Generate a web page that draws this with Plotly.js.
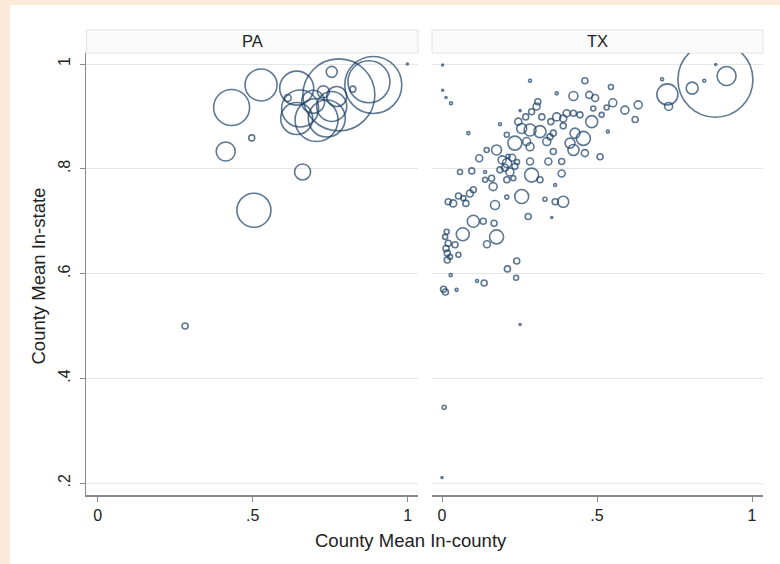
<!DOCTYPE html>
<html>
<head>
<meta charset="utf-8">
<script src="https://cdn.plot.ly/plotly-3.0.1.min.js"></script>
<style>html,body{margin:0;padding:0;background:#fde9da;}#chart{width:780px;height:564px;}</style>
</head>
<body>
<div id="chart"></div>
<script>
// Panel labels
const panels = ['PA', 'TX'];
// Tick labels
const xTickVals = [0, 0.5, 1];
const xTickText = ['0', '.5', '1'];
const yTickVals = [0.2, 0.4, 0.6, 0.8, 1];
const yTickText = ['.2', '.4', '.6', '.8', '1'];

// PA: county mean in-county (x), in-state (y), weight (bubble area)
const paX = [0.432,0.527,0.642,0.755,0.778,0.889,0.875,0.823,0.613,0.642,0.706,0.739,0.755,0.695,0.728,0.771,0.653,0.497,0.413,0.661,0.504,0.282,0.999];
const paY = [0.917,0.960,0.954,0.985,0.941,0.960,0.966,0.952,0.935,0.896,0.893,0.896,0.919,0.928,0.947,0.938,0.915,0.859,0.833,0.794,0.721,0.500,1.000];
const paW = [1296,1024,1156,121,5184,3249,1764,36,49,1024,1849,1369,900,529,144,400,1369,36,361,256,1156,36,4];

// TX
const txX = [0.882,0.918,0.807,0.846,0.883,0.727,0.731,0.710,0.633,0.623,0.590,0.551,0.535,0.545,0.461,0.494,0.475,0.483,0.488,0.510,0.461,0.424,0.370,0.284,0.515,0.531,
0.002,0.013,0.029,0.002,0.309,0.305,0.252,0.289,0.270,0.322,0.370,0.391,0.402,0.424,0.445,0.351,0.246,0.187,0.284,0.316,0.257,0.085,0.359,0.391,0.429,0.456,0.235,0.273,0.209,0.284,0.338,0.348,0.413,0.424,0.359,0.176,0.144,0.120,
0.194,0.210,0.226,0.203,0.235,0.219,0.187,0.242,0.213,0.284,0.289,0.316,0.343,0.386,0.386,0.365,0.058,0.096,0.139,0.160,0.139,0.165,0.209,0.230,0.257,0.171,0.209,0.332,0.365,0.391,
0.020,0.036,0.069,0.090,0.101,0.077,0.278,0.354,0.101,0.133,0.168,0.067,0.176,0.145,0.015,0.010,0.020,0.013,0.017,0.026,0.042,0.053,0.017,0.241,0.211,0.239,0.028,0.113,0.136,0.005,0.011,0.047,0.252,0.007,0.000,0.053];
const txY = [0.970,0.977,0.954,0.968,0.999,0.942,0.919,0.971,0.922,0.894,0.912,0.926,0.871,0.956,0.968,0.935,0.941,0.890,0.915,0.823,0.830,0.939,0.944,0.968,0.903,0.917,
0.998,0.936,0.925,0.950,0.928,0.919,0.911,0.909,0.899,0.899,0.899,0.896,0.906,0.906,0.903,0.890,0.890,0.885,0.874,0.871,0.877,0.868,0.868,0.882,0.868,0.858,0.849,0.852,0.865,0.842,0.852,0.861,0.849,0.836,0.833,0.836,0.836,0.820,
0.817,0.811,0.821,0.802,0.805,0.794,0.798,0.813,0.824,0.814,0.788,0.779,0.814,0.814,0.791,0.769,0.794,0.796,0.794,0.782,0.779,0.766,0.779,0.782,0.747,0.731,0.746,0.742,0.737,0.737,
0.737,0.734,0.744,0.753,0.760,0.734,0.709,0.707,0.700,0.700,0.696,0.675,0.670,0.656,0.680,0.670,0.658,0.648,0.639,0.632,0.655,0.636,0.626,0.624,0.609,0.592,0.597,0.586,0.582,0.570,0.565,0.569,0.503,0.345,0.211,0.748];
const txW = [5625,361,144,9,4,441,64,9,64,36,64,64,9,25,36,49,49,144,25,36,49,81,9,9,25,25,
4,4,9,4,36,49,4,36,36,36,64,49,49,36,36,36,49,9,144,144,100,9,36,36,100,196,196,64,25,64,64,36,100,121,36,100,25,49,
64,81,49,49,36,64,36,25,16,49,196,36,49,36,49,9,25,36,9,36,25,64,36,25,196,81,16,16,36,121,
36,49,25,49,36,36,36,4,144,36,36,169,196,49,25,25,36,36,36,25,36,25,36,36,36,25,9,9,36,36,36,9,4,16,4,36];

const navy = '#1a3f66';
const fontFam = '"Liberation Sans", Arial, Helvetica, sans-serif';
const size = w => w.map(v => Math.sqrt(v));

function bubbles(x, y, w, xa, ya) {
  return {
    type: 'scatter', mode: 'markers', x: x, y: y, xaxis: xa, yaxis: ya,
    hoverinfo: 'skip',
    marker: {symbol: 'circle', size: size(w), sizemode: 'diameter',
             color: 'rgba(0,0,0,0)', line: {color: navy, width: 1.6}}
  };
}

const data = [
  bubbles(paX, paY, paW, 'x', 'y'),
  bubbles(txX, txY, txW, 'x2', 'y2')
];

const W = 780, H = 564;
const px = v => v / W, py = v => 1 - v / H;
const yRange = [1 - (495 - 64) / 524, 1 + (64 - 53) / 524];
const tickFont = {family: fontFam, size: 16, color: '#222'};

const xBase = {
  range: [-0.0377, 1.0333], tickvals: xTickVals, ticktext: xTickText,
  ticks: 'outside', ticklen: 5, tickcolor: '#8a8a8a', tickwidth: 1,
  showline: true, linecolor: '#8a8a8a', linewidth: 1.5,
  showgrid: false, zeroline: false, tickfont: tickFont, fixedrange: true
};
const yBase = {
  range: yRange, domain: [py(495), py(53)], tickvals: yTickVals, ticktext: yTickText,
  showgrid: true, gridcolor: '#e6e6e6', gridwidth: 1, zeroline: false, fixedrange: true
};

const layout = {
  width: W, height: H,
  margin: {l: 0, r: 0, t: 0, b: 0},
  paper_bgcolor: '#fde9da',
  plot_bgcolor: 'rgba(0,0,0,0)',
  showlegend: false,
  xaxis: Object.assign({}, xBase, {domain: [px(86), px(418)], anchor: 'y'}),
  xaxis2: Object.assign({}, xBase, {domain: [px(432), px(763)], anchor: 'y2', range: [-0.0323, 1.0355]}),
  yaxis: Object.assign({}, yBase, {anchor: 'x', ticks: 'outside', ticklen: 5, tickcolor: '#8a8a8a',
    showline: true, linecolor: '#8a8a8a', linewidth: 1.5, tickangle: -90, tickfont: tickFont,
    ticklabelstandoff: 3}),
  yaxis2: Object.assign({}, yBase, {anchor: 'x2', matches: 'y', showticklabels: false, ticks: '', showline: false}),
  shapes: [
    {type: 'rect', xref: 'paper', yref: 'paper', x0: px(10), x1: 1, y0: 0, y1: py(5),
     fillcolor: '#ffffff', line: {width: 0}, layer: 'below'},
    {type: 'rect', xref: 'paper', yref: 'paper', x0: px(86.5), x1: px(418), y0: py(53), y1: py(30),
     fillcolor: '#fbfbfb', line: {color: '#e2e2e2', width: 1}, layer: 'below'},
    {type: 'rect', xref: 'paper', yref: 'paper', x0: px(432), x1: px(763), y0: py(53), y1: py(30),
     fillcolor: '#fbfbfb', line: {color: '#e2e2e2', width: 1}, layer: 'below'}
  ],
  annotations: [
    {text: panels[0], xref: 'paper', yref: 'paper', x: px(252), y: py(41.5), showarrow: false,
     xanchor: 'center', yanchor: 'middle', font: {family: fontFam, size: 16.5, color: '#222'}},
    {text: panels[1], xref: 'paper', yref: 'paper', x: px(597.5), y: py(41.5), showarrow: false,
     xanchor: 'center', yanchor: 'middle', font: {family: fontFam, size: 16.5, color: '#222'}},
    {text: 'County Mean In-county', xref: 'paper', yref: 'paper', x: px(410.5), y: py(540), showarrow: false,
     xanchor: 'center', yanchor: 'middle', font: {family: fontFam, size: 18.5, color: '#222'}},
    {text: 'County Mean In-state', xref: 'paper', yref: 'paper', x: px(38), y: py(276.5), showarrow: false,
     textangle: -90, xanchor: 'center', yanchor: 'middle', font: {family: fontFam, size: 18.5, color: '#222'}}
  ]
};

Plotly.newPlot('chart', data, layout, {staticPlot: true, displayModeBar: false});
</script>
</body>
</html>
